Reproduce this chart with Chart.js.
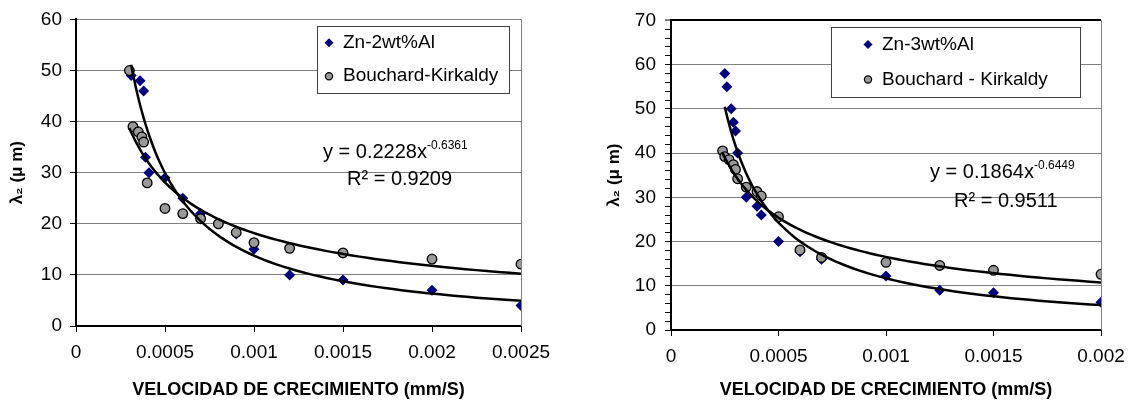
<!DOCTYPE html>
<html>
<head>
<meta charset="utf-8">
<script src="https://cdn.jsdelivr.net/npm/chart.js@4.4.1/dist/chart.umd.min.js"></script>
<style>
    body { margin: 0; background: #fff; }
    .box { position: absolute; top: 0; height: 410px; }
</style>
</head>
<body>
<div class="box" style="left:0; width:567px;"><canvas id="chartLeft" width="567" height="410"></canvas></div>
<div class="box" style="left:567px; width:568px;"><canvas id="chartRight" width="568" height="410"></canvas></div>
<script>
// ---- grafico izquierdo (Zn-2wt%Al)
leftBlueX = [0.00031, 0.00036, 0.00038, 0.00039, 0.00041, 0.0005, 0.0006, 0.0007, 0.0008, 0.0009, 0.001, 0.0012, 0.0015, 0.002, 0.0025];
leftBlueY = [49, 48, 46, 33, 30, 29, 25, 22, 20, 18, 15, 10, 9, 7, 4];
leftGrayX = [0.0003, 0.00032, 0.00035, 0.00037, 0.00038, 0.0004, 0.0005, 0.0006, 0.0007, 0.0008, 0.0009, 0.001, 0.0012, 0.0015, 0.002, 0.0025];
leftGrayY = [50, 39, 38, 37, 36, 28, 23, 22, 21, 20, 18.3, 16.3, 15.2, 14.3, 13.1, 12.1];
leftXTicks = [0, 0.0005, 0.001, 0.0015, 0.002, 0.0025];
leftYTicks = [0, 10, 20, 30, 40, 50, 60];
leftLabels = ['Zn-2wt%Al', 'Bouchard-Kirkaldy'];
leftEquation = ['y = 0.2228x', '-0.6361', 'R² = 0.9209'];

// ---- grafico derecho (Zn-3wt%Al)
rightBlueX = [0.00025, 0.00026, 0.00028, 0.00029, 0.0003, 0.00031, 0.00035, 0.0004, 0.00042, 0.0005, 0.0006, 0.0007, 0.001, 0.00125, 0.0015, 0.002];
rightBlueY = [58, 55, 50, 47, 45, 40, 30, 28, 26, 20, 17.7, 16, 12.2, 9, 8.4, 6.3];
rightGrayX = [0.00024, 0.00025, 0.00027, 0.00029, 0.0003, 0.00031, 0.00035, 0.0004, 0.00042, 0.0005, 0.0006, 0.0007, 0.001, 0.00125, 0.0015, 0.002];
rightGrayY = [40.5, 39.2, 38.5, 37.4, 36.3, 34.2, 32.3, 31.3, 30.3, 25.6, 18.1, 16.4, 15.3, 14.6, 13.5, 12.6];
rightXTicks = [0, 0.0005, 0.001, 0.0015, 0.002];
rightYTicks = [0, 10, 20, 30, 40, 50, 60, 70];
rightLabels = ['Zn-3wt%Al', 'Bouchard - Kirkaldy'];
rightEquation = ['y = 0.1864x', '-0.6449', 'R² = 0.9511'];

xTitle = 'VELOCIDAD DE CRECIMIENTO (mm/S)';
yTitle = 'λ₂ (μ m)';

FONT = "Arial, 'Liberation Sans', sans-serif";
BLUE = '#000080';
GRAY = '#999999';

function toPoints(xs, ys) {
    let pts = [];
    for (let i in xs) pts.push({ x: xs[i], y: ys[i] });
    return pts;
}

// linea de tendencia potencial (como Excel: regresion de ln y sobre ln x)
function powerTrend(xs, ys) {
    let n = xs.length, mx = 0, my = 0;
    for (let i = 0; i < n; i++) { mx += Math.log(xs[i]); my += Math.log(ys[i]); }
    mx /= n; my /= n;
    let sxy = 0, sxx = 0;
    for (let i = 0; i < n; i++) {
        let dx = Math.log(xs[i]) - mx;
        sxy += dx * (Math.log(ys[i]) - my);
        sxx += dx * dx;
    }
    let b = sxy / sxx, a = Math.exp(my - b * mx);
    let x0 = Math.min.apply(null, xs), x1 = Math.max.apply(null, xs);
    let pts = [];
    for (let k = 0; k <= 80; k++) {
        let x = x0 * Math.pow(x1 / x0, k / 80);
        pts.push({ x: x, y: a * Math.pow(x, b) });
    }
    return pts;
}

// leyenda, ecuacion y borde derecho al estilo Excel
let excelPlugin = {
    id: 'excelBits',
    beforeDatasetsDraw(chart) {
        let ctx = chart.ctx, a = chart.chartArea;
        ctx.save();
        ctx.strokeStyle = '#808080';
        ctx.lineWidth = 1;
        ctx.beginPath();
        ctx.moveTo(a.right + 0.5, a.top);
        ctx.lineTo(a.right + 0.5, a.bottom);
        ctx.stroke();
        ctx.restore();
    },
    afterDatasetsDraw(chart) {
        let o = chart.options.plugins.excelBits;
        let ctx = chart.ctx;
        ctx.save();
        // caja de leyenda
        let L = o.legend;
        ctx.fillStyle = '#fff';
        ctx.fillRect(L.x, L.y, L.w, L.h);
        ctx.strokeStyle = '#404040';
        ctx.lineWidth = 1;
        ctx.strokeRect(L.x + 0.5, L.y + 0.5, L.w, L.h);
        let r1 = L.y + L.h * 0.25, r2 = L.y + L.h * 0.75;
        ctx.fillStyle = BLUE;
        ctx.beginPath();
        ctx.moveTo(L.mx - 4.5, r1); ctx.lineTo(L.mx, r1 - 4.5);
        ctx.lineTo(L.mx + 4.5, r1); ctx.lineTo(L.mx, r1 + 4.5);
        ctx.closePath(); ctx.fill();
        ctx.fillStyle = GRAY;
        ctx.strokeStyle = '#000';
        ctx.lineWidth = 1.2;
        ctx.beginPath();
        ctx.arc(L.mx, r2, 3.6, 0, Math.PI * 2);
        ctx.fill(); ctx.stroke();
        ctx.fillStyle = '#000';
        ctx.font = '19px ' + FONT;
        ctx.textBaseline = 'middle';
        ctx.textAlign = 'left';
        ctx.fillText(o.labels[0], L.tx, r1);
        ctx.fillText(o.labels[1], L.tx, r2);

        // ecuacion de la tendencia
        let E = o.eq;
        ctx.font = '20px ' + FONT;
        ctx.textBaseline = 'alphabetic';
        ctx.fillText(o.equation[0], E.x, E.y);
        let w = ctx.measureText(o.equation[0]).width;
        ctx.font = '12px ' + FONT;
        ctx.fillText(o.equation[1], E.x + w, E.y - 9);
        ctx.font = '20px ' + FONT;
        ctx.fillText(o.equation[2], E.rx, E.ry);
        ctx.restore();
    }
};

function makeChart(id, s) {
    let datasets = [
        {
            label: s.labels[0], data: toPoints(s.blueX, s.blueY), order: 3,
            pointStyle: 'rectRot', pointRadius: 5.5, pointHoverRadius: 5.5,
            backgroundColor: BLUE, borderColor: BLUE, borderWidth: 0, showLine: false
        },
        {
            label: s.labels[1], data: toPoints(s.grayX, s.grayY), order: 2,
            pointStyle: 'circle', pointRadius: 4.8, pointHoverRadius: 4.8,
            backgroundColor: GRAY, borderColor: '#000', borderWidth: 1.3, showLine: false
        },
        {
            label: 'tendencia 1', data: powerTrend(s.blueX, s.blueY), order: 1,
            showLine: true, pointRadius: 0, borderColor: '#000', borderWidth: 2.5, fill: false
        },
        {
            label: 'tendencia 2', data: powerTrend(s.grayX, s.grayY), order: 1,
            showLine: true, pointRadius: 0, borderColor: '#000', borderWidth: 2.5, fill: false
        }
    ];
    let yMax = s.yTicks[s.yTicks.length - 1];
    return new Chart(document.getElementById(id), {
        type: 'scatter',
        data: { datasets: datasets },
        plugins: [excelPlugin],
        options: {
            responsive: false,
            animation: false,
            events: [],
            layout: { padding: { top: s.top, right: s.right, left: 0, bottom: 0 } },
            plugins: {
                legend: { display: false },
                tooltip: { enabled: false },
                excelBits: { legend: s.legend, eq: s.eq, labels: s.labels, equation: s.equation }
            },
            scales: {
                x: {
                    type: 'linear', min: 0, max: s.xTicks[s.xTicks.length - 1],
                    afterBuildTicks: function (sc) { sc.ticks = s.xTicks.map(v => ({ value: v })); },
                    afterFit: function (sc) { sc.height = s.xH; },
                    grid: { drawOnChartArea: false, drawTicks: true, tickLength: 6, tickColor: '#000', tickWidth: 1 },
                    border: { color: '#000', width: 2 },
                    ticks: {
                        color: '#000', padding: 9, maxRotation: 0, autoSkip: false,
                        font: { family: FONT, size: 19 },
                        callback: v => String(v)
                    },
                    title: {
                        display: true, text: xTitle, color: '#000',
                        font: { family: FONT, size: 18, weight: 'bold' },
                        padding: { top: 0, bottom: 9 }
                    }
                },
                y: {
                    type: 'linear', min: 0, max: yMax,
                    afterBuildTicks: function (sc) {
                        let t = [];
                        for (let v = 0; v <= yMax; v += s.minor) t.push({ value: v });
                        sc.ticks = t;
                    },
                    afterFit: function (sc) { sc.width = s.yW; },
                    grid: {
                        drawOnChartArea: true, drawTicks: true, tickLength: 6, tickColor: '#000', tickWidth: 1,
                        color: c => (s.yTicks.indexOf(c.tick.value) < 0 || c.tick.value === 0) ? 'rgba(0,0,0,0)'
                            : (c.tick.value === yMax && s.darkTop ? '#000' : '#808080'),
                        lineWidth: c => (c.tick.value === yMax && s.darkTop) ? 2 : 1
                    },
                    border: { color: '#000', width: 2 },
                    ticks: {
                        color: '#000', padding: s.yPad, autoSkip: false,
                        font: { family: FONT, size: 19 },
                        callback: v => (s.yTicks.indexOf(v) >= 0 ? String(v) : '')
                    },
                    title: {
                        display: true, text: yTitle, color: '#000',
                        font: { family: FONT, size: 17, weight: 'bold' },
                        padding: { top: s.yTitlePad, bottom: 0 }
                    }
                }
            }
        }
    });
}

makeChart('chartLeft', {
    blueX: leftBlueX, blueY: leftBlueY, grayX: leftGrayX, grayY: leftGrayY,
    xTicks: leftXTicks, yTicks: leftYTicks, minor: 10, darkTop: false,
    labels: leftLabels, equation: leftEquation,
    top: 16, right: 46, yW: 76, xH: 84, yPad: 8, yTitlePad: 7,
    legend: { x: 317, y: 26, w: 192, h: 67, mx: 329, tx: 343 },
    eq: { x: 323, y: 158, rx: 347, ry: 185 }
});

makeChart('chartRight', {
    blueX: rightBlueX, blueY: rightBlueY, grayX: rightGrayX, grayY: rightGrayY,
    xTicks: rightXTicks, yTicks: rightYTicks, minor: 2, darkTop: true,
    labels: rightLabels, equation: rightEquation,
    top: 18, right: 34, yW: 104, xH: 80, yPad: 9, yTitlePad: 37,
    legend: { x: 264, y: 27, w: 249, h: 70, mx: 301, tx: 315 },
    eq: { x: 363, y: 178, rx: 387, ry: 207 }
});
</script>
</body>
</html>
